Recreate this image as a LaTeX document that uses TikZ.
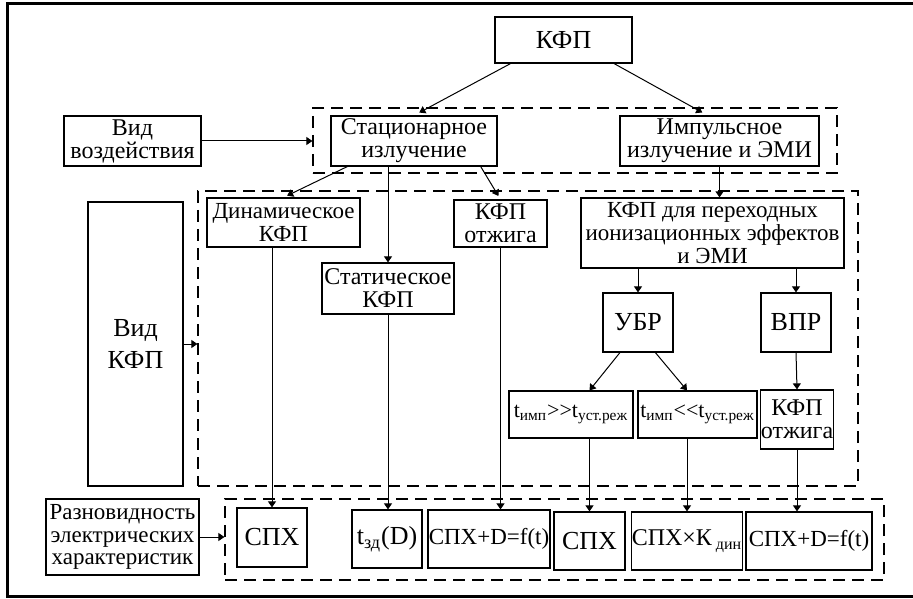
\documentclass[tikz,border=0pt]{standalone}
\usepackage{fontspec}
\setmainfont{Liberation Serif}
\usetikzlibrary{arrows.meta,calc}

\begin{document}
\begin{tikzpicture}[x=0.5pt,y=-0.5pt,
  blk/.style={draw,line width=0.6pt,inner sep=0pt,align=center,
    font=\fontsize{12}{11.5}\selectfont},
  big/.style={font=\fontsize{13}{12}\selectfont},
  small/.style={font=\fontsize{11.5}{11.3}\selectfont},
  sz/.style 2 args={minimum width=#1*0.5pt,minimum height=#2*0.5pt},
  grp/.style={draw,dash pattern=on 6pt off 3.5pt,line width=0.6pt,inner sep=0pt},
  arr/.style={-{Triangle[length=3pt,width=4pt]},line width=0.5pt}]
  \useasboundingbox (0,0) rectangle (913,598);
  \draw[line width=1.5pt] (913,4) -- (7,4) -- (7,596.5) -- (913,596.5);

  % dashed groups
  \node[grp,sz={524}{65}] (grp1) at (575,140.5) {};
  \node[grp,sz={660}{295}] (grp2) at (528,338.5) {};
  \node[grp,sz={659}{81}] (grp3) at (554.5,539.5) {};

  % top levels
  \node[blk,big,sz={137}{46}] (kfp) at (563.5,40) {КФП};
  \node[blk,sz={137}{50}] (vozd) at (132.5,141) {Вид\\воздействия};
  \node[blk,sz={166}{50}] (stac) at (414,141) {Стационарное\\излучение};
  \node[blk,sz={199}{50}] (imp) at (719.5,141) {Импульсное\\излучение и ЭМИ};

  % kinds of effect
  \node[blk,big,sz={95}{284}] (vidkfp) at (135.5,344) {Вид\\[4pt]КФП};
  \node[blk,small,sz={153}{49}] (dyn) at (283.5,222.5) {Динамическое\\КФП};
  \node[blk,sz={132}{51}] (stat) at (388,288.5) {Статическое\\КФП};
  \node[blk,sz={93}{47}] (otzh1) at (500.5,223.5) {КФП\\отжига};
  \node[blk,small,sz={263}{70}] (trans) at (712.5,233)
    {КФП для переходных\\ионизационных эффектов\\и ЭМИ};
  \node[blk,big,sz={70}{59}] (ubr) at (638,322.5) {УБР};
  \node[blk,big,sz={70}{59}] (vpr) at (796,322.5) {ВПР};
  \node[blk,sz={124}{47},font=\fontsize{11}{11}\selectfont] (tgg) at (571,414.5)
    {t\textsubscript{имп}>{}>t\textsubscript{уст.реж}};
  \node[blk,sz={119}{47},font=\fontsize{11}{11}\selectfont] (tll) at (697.5,414.5)
    {t\textsubscript{имп}<{}<t\textsubscript{уст.реж}};
  \node[blk,sz={72}{59}] (otzh2) at (797,419.5) {КФП\\отжига};

  % characteristics
  \node[blk,small,sz={153}{76}] (razn) at (122.5,537) {Разновидность\\электрических\\характеристик};
  \node[blk,big,sz={70}{59}] (sph1) at (272,537.5) {СПХ};
  \node[blk,big,sz={70}{58}] (tzd) at (387,539) {t\textsubscript{зд}(D)};
  \node[blk,small,sz={122}{58}] (sphD1) at (489,539) {СПХ+D=f(t)};
  \node[blk,big,sz={71}{58}] (sph2) at (589.5,541) {СПХ};
  \node[blk,sz={106}{58}] (sphK) at (687,541) {СПХ×К\,\textsubscript{дин}};
  \node[blk,small,sz={126}{58}] (sphD2) at (809,541) {СПХ+D=f(t)};

  % connectors
  \draw[arr,shorten >=3pt] (kfp.204) -- (stac.north);
  \draw[arr,shorten >=3pt] (kfp.-25) -- ([xshift=-6pt]imp.north);
  \draw[arr] (vozd.east) -- (vozd.east -| grp1.west);
  \draw[arr] (vidkfp.east) -- (vidkfp.east -| grp2.west);
  \draw[arr] (razn.east) -- (razn.east -| grp3.west);
  \draw[arr,shorten >=2pt] (stac.201) -- (dyn.north);
  \draw[arr] (stac.south -| stat.north) -- (stat.north);
  \draw[arr,shorten >=2pt] (stac.-21) -- (otzh1.north);
  \draw[arr] (imp.south) -- (imp.south |- trans.north);
  \draw[arr] (trans.south -| ubr.north) -- (ubr.north);
  \draw[arr] (trans.south -| vpr.north) -- (vpr.north);
  \draw[arr] (ubr.-121) -- (sph2.north |- tgg.north);
  \draw[arr] (ubr.-60) -- (sphK.north |- tll.north);
  \draw[arr] (vpr.south) -- (otzh2.north);
  \draw[arr] (sph1.north |- dyn.south) -- (sph1.north);
  \draw[arr] (stat.south) -- (stat.south |- tzd.north);
  \draw[arr] (otzh1.south) -- (otzh1.south |- sphD1.north);
  \draw[arr] (sph2.north |- tgg.south) -- (sph2.north);
  \draw[arr] (sphK.north |- tll.south) -- (sphK.north);
  \draw[arr] (otzh2.south) -- (otzh2.south |- sphD2.north);
\end{tikzpicture}
\end{document}
